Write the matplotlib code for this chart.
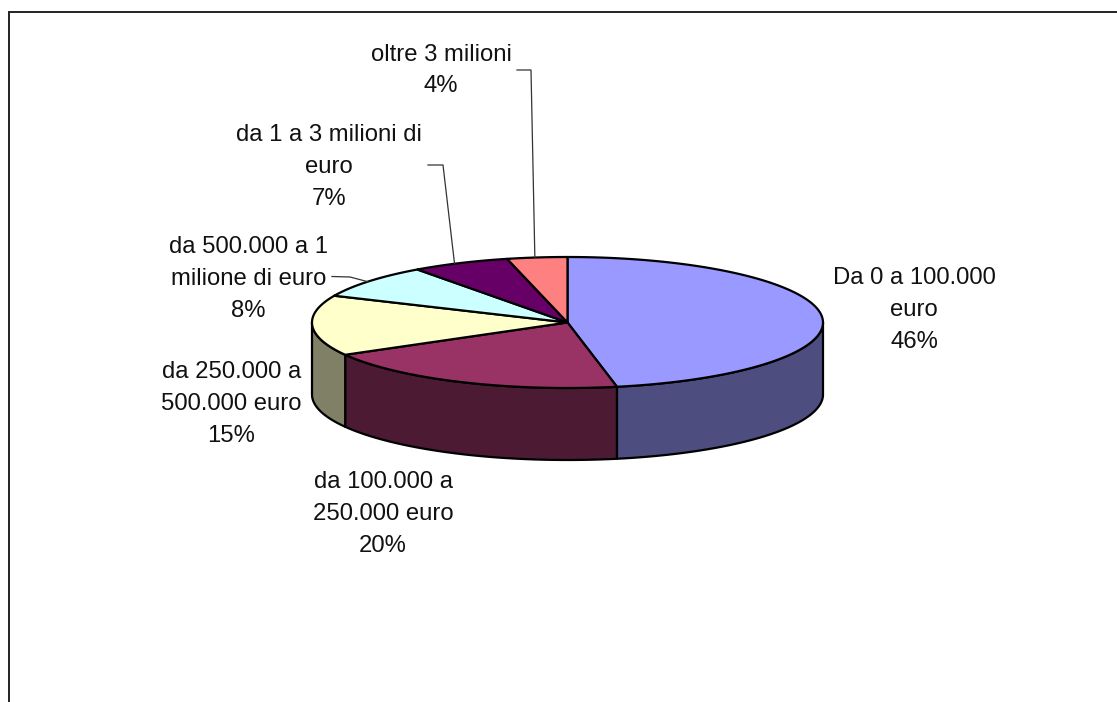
import numpy as np
import matplotlib
matplotlib.use("Agg")
import matplotlib.pyplot as plt

# Printed labels
categories = ["Da 0 a 100.000\neuro", "da 100.000 a\n250.000 euro", "da 250.000 a\n500.000 euro",
              "da 500.000 a 1\nmilione di euro", "da 1 a 3 milioni di\neuro", "oltre 3 milioni"]
printed_pct = [46, 20, 15, 8, 7, 4]
# Slice sizes as actually drawn in the picture (the original's 3D projection shifts them slightly)
drawn_share = [46.9, 19.9, 14.9, 8.3, 6.2, 3.8]

top_colors = ["#9999FF", "#993366", "#FFFFCC", "#CCFFFF", "#660066", "#FF8080"]
side_colors = ["#4D4D80", "#4D1A33", "#808066", "#668080", "#330033", "#804040"]

# Layout (pixels)
W, H = 1117, 702
cx, cy, rx, ry, depth = 567.5, 322.5, 255.5, 65.5, 72
label_xy = [(914, 310), (383, 514), (231.5, 404), (248.5, 279), (329, 167), (441, 70.5)]
leader_start = {3: [(332, 276.5), (350, 277)], 4: [(428, 165), (443, 165)], 5: [(517, 70), (531, 70)]}
leader_angle_shift = {3: -0.5, 4: -1.4, 5: -0.5}

plt.rcParams["font.family"] = ["Liberation Sans", "DejaVu Sans"]
fig = plt.figure(figsize=(W / 100, H / 100), dpi=100, facecolor="white")
ax = fig.add_axes([0, 0, 1, 1])
ax.set_xlim(0, W)
ax.set_ylim(H, 0)
ax.axis("off")

ax.plot([8.5, 8.5, W], [H, 11.5, 11.5], color="#222222", lw=1.4, solid_joinstyle="miter", zorder=1)


def ell(t):
    t = np.radians(t)
    return cx + rx * np.sin(t), cy - ry * np.cos(t)


edges = np.concatenate([[0], np.cumsum(drawn_share)]) / sum(drawn_share) * 360
EW = 1.6

# Side walls (front half of the ellipse only)
for i in range(len(drawn_share)):
    a, b = max(edges[i], 90), min(edges[i + 1], 270)
    if a >= b:
        continue
    t = np.linspace(a, b, 80)
    x, y = ell(t)
    px = np.concatenate([x, x[::-1]])
    py = np.concatenate([y, y[::-1] + depth])
    ax.fill(px, py, facecolor=side_colors[i], edgecolor="black", lw=EW, joinstyle="round", zorder=2)

# Top faces
for i in range(len(drawn_share)):
    t = np.linspace(edges[i], edges[i + 1], 150)
    x, y = ell(t)
    ax.fill(np.r_[cx, x], np.r_[cy, y], facecolor=top_colors[i], edgecolor="black", lw=EW,
            joinstyle="round", zorder=3)

# Labels and leaders
for i, (cat, pct) in enumerate(zip(categories, printed_pct)):
    ax.text(label_xy[i][0], label_xy[i][1], f"{cat}\n{pct}%", ha="center", va="center",
            multialignment="center", fontsize=17.2, linespacing=1.57, color="#111111", zorder=5)
    if i in leader_start:
        mid = (edges[i] + edges[i + 1]) / 2 + leader_angle_shift[i]
        ax_, ay_ = ell(mid)
        pts = leader_start[i] + [(ax_, ay_)]
        ax.plot([p[0] for p in pts], [p[1] for p in pts], color="#333333", lw=0.9, zorder=4)

fig.savefig("out.png", dpi=100, facecolor="white")
